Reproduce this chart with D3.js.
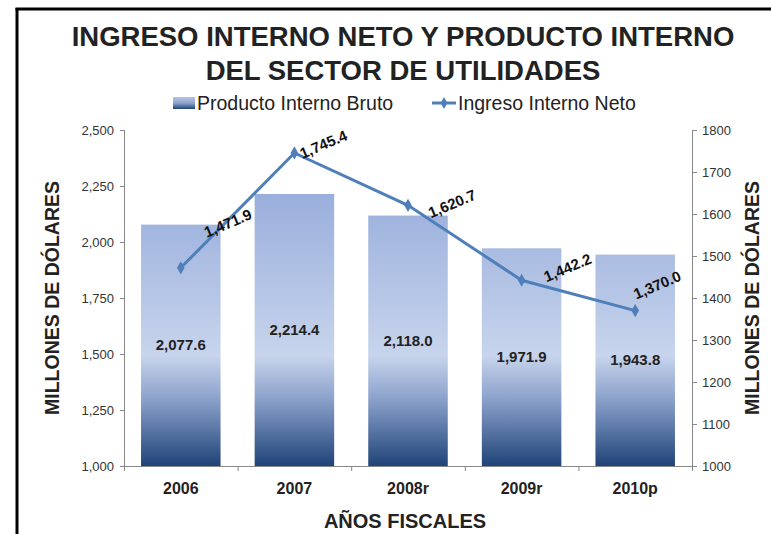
<!DOCTYPE html>
<html><head><meta charset="utf-8">
<script src="https://cdn.jsdelivr.net/npm/d3@7"></script>
<style>body{margin:0;background:#fff}svg{display:block;font-family:"Liberation Sans",Arial,sans-serif}</style>
</head><body><svg id="c" width="771" height="534"></svg>
<script>
const categories = ["2006","2007","2008r","2009r","2010p"];
const pibValues = [2077.6, 2214.4, 2118.0, 1971.9, 1943.8];
const ingresoValues = [1471.9, 1745.4, 1620.7, 1442.2, 1370.0];
const leftTicks = [1000,1250,1500,1750,2000,2250,2500];
const rightTicks = [1000,1100,1200,1300,1400,1500,1600,1700,1800];
const titleLines = ["INGRESO INTERNO NETO Y PRODUCTO INTERNO","DEL SECTOR DE UTILIDADES"];
const seriesNames = ["Producto Interno Bruto","Ingreso Interno Neto"];
const yTitle = "MILLONES DE DÓLARES";
const xTitle = "AÑOS FISCALES";
// label placement (layout only): offset of label start from its point
const lineLabelOffsets = [[26,-30],[8,6],[23,13],[25,2],[1,-11]];

const svg = d3.select("#c");
const M = {l:124, r:692, t:130, b:466};
const x = d3.scaleBand().domain(categories).range([M.l,M.r]).paddingInner(0.3).paddingOuter(0.15);
const xb = d3.scaleBand().domain(categories).range([M.l,M.r]);
const yL = d3.scaleLinear().domain([1000,2500]).range([M.b,M.t]);
const yR = d3.scaleLinear().domain([1000,1800]).range([M.b,M.t]);
const lineColor = "#4f7fba";

const defs = svg.append("defs");
const g = defs.append("linearGradient").attr("id","barg").attr("gradientUnits","userSpaceOnUse")
  .attr("x1",0).attr("x2",0).attr("y1",190).attr("y2",M.b);
[[0,"#98addb"],[0.6,"#c7d4ec"],[0.75,"#8ea4cd"],[1,"#1f4378"]].forEach(s=>g.append("stop").attr("offset",s[0]).attr("stop-color",s[1]));
const lg = defs.append("linearGradient").attr("id","legg").attr("x1",0).attr("x2",0).attr("y1",0).attr("y2",1);
[[0,"#b5c5e6"],[0.5,"#8ea4cd"],[1,"#1f4378"]].forEach(s=>lg.append("stop").attr("offset",s[0]).attr("stop-color",s[1]));

// frame
svg.append("line").attr("x1",17).attr("x2",17).attr("y1",8).attr("y2",534).attr("stroke","#000").attr("stroke-width",3);
svg.append("line").attr("x1",15.5).attr("x2",771).attr("y1",9).attr("y2",9).attr("stroke","#000").attr("stroke-width",3);

// title
titleLines.forEach((t,i)=>svg.append("text").attr("x",403).attr("y",46+i*34).attr("text-anchor","middle")
  .attr("font-size",27.5).attr("font-weight","bold").attr("fill","#222").text(t));

// legend
svg.append("rect").attr("x",173).attr("y",97).attr("width",22).attr("height",12).attr("fill","url(#legg)");
svg.append("text").attr("x",197).attr("y",110).attr("font-size",19.5).attr("fill","#222").text(seriesNames[0]);
svg.append("line").attr("x1",432).attr("x2",456).attr("y1",103).attr("y2",103).attr("stroke",lineColor).attr("stroke-width",3);
svg.append("path").attr("d",d3.symbol(d3.symbolDiamond,40)()).attr("transform","translate(444,103)").attr("fill",lineColor);
svg.append("text").attr("x",458).attr("y",110).attr("font-size",19.5).attr("fill","#222").text(seriesNames[1]);

// bars
svg.selectAll(".bar").data(pibValues).join("rect").attr("class","bar")
  .attr("x",(d,i)=>x(categories[i])).attr("width",x.bandwidth())
  .attr("y",d=>yL(d)).attr("height",d=>yL(1000)-yL(d)).attr("fill","url(#barg)");

// axes
const axL = svg.append("g").attr("transform",`translate(${M.l},0)`)
  .call(d3.axisLeft(yL).tickValues(leftTicks).tickSize(4).tickPadding(6).tickFormat(d3.format(",")));
const axR = svg.append("g").attr("transform",`translate(${M.r},0)`)
  .call(d3.axisRight(yR).tickValues(rightTicks).tickSize(5).tickPadding(5).tickFormat(d3.format("d")));
[axL,axR].forEach(a=>{a.select(".domain").attr("stroke","#888").attr("d",null);
  a.selectAll(".tick line").attr("stroke","#888");
  a.selectAll("text").attr("font-size",13).attr("fill","#333").attr("font-family","Liberation Sans, Arial, sans-serif");});
axL.select(".domain").remove(); axR.select(".domain").remove();
svg.append("line").attr("x1",M.l+0.5).attr("x2",M.l+0.5).attr("y1",M.t).attr("y2",M.b).attr("stroke","#888");
svg.append("line").attr("x1",M.r+0.5).attr("x2",M.r+0.5).attr("y1",M.t).attr("y2",M.b).attr("stroke","#888");
svg.append("line").attr("x1",M.l).attr("x2",M.r+1).attr("y1",M.b+0.5).attr("y2",M.b+0.5).attr("stroke","#888");
const bounds = categories.map(c=>xb(c)).concat([M.r]);
svg.selectAll(".xt").data(bounds).join("line").attr("x1",d=>d+0.5).attr("x2",d=>d+0.5).attr("y1",M.b).attr("y2",M.b+5).attr("stroke","#888");
svg.selectAll(".xl").data(categories).join("text").attr("x",d=>xb(d)+xb.bandwidth()/2).attr("y",494)
  .attr("text-anchor","middle").attr("font-size",16).attr("font-weight","bold").attr("fill","#222").text(d=>d);

// axis titles
svg.append("text").attr("transform","translate(59,298) rotate(-90)").attr("text-anchor","middle")
  .attr("font-size",19.5).attr("font-weight","bold").attr("fill","#222").text(yTitle);
svg.append("text").attr("transform","translate(759,298) rotate(-90)").attr("text-anchor","middle")
  .attr("font-size",19.5).attr("font-weight","bold").attr("fill","#222").text(yTitle);
svg.append("text").attr("x",405).attr("y",528).attr("text-anchor","middle")
  .attr("font-size",20).attr("font-weight","bold").attr("fill","#222").text(xTitle);

// bar labels
svg.selectAll(".bl").data(pibValues).join("text").attr("x",(d,i)=>x(categories[i])+x.bandwidth()/2)
  .attr("y",d=>(yL(d)+yL(1000))/2+5).attr("text-anchor","middle").attr("font-size",15).attr("font-weight","bold")
  .attr("fill","#222").text(d=>d3.format(",.1f")(d));

// line
const pts = ingresoValues.map((v,i)=>[xb(categories[i])+xb.bandwidth()/2, yR(v)]);
svg.append("path").attr("d",d3.line()(pts)).attr("fill","none").attr("stroke",lineColor).attr("stroke-width",3);
svg.selectAll(".mk").data(pts).join("path").attr("d",d3.symbol(d3.symbolDiamond,50)())
  .attr("transform",d=>`translate(${d[0]},${d[1]})`).attr("fill",lineColor);
svg.selectAll(".ll").data(ingresoValues).join("text")
  .attr("transform",(d,i)=>`translate(${pts[i][0]+lineLabelOffsets[i][0]},${pts[i][1]+lineLabelOffsets[i][1]}) rotate(-23)`)
  .attr("font-size",15).attr("font-weight","bold").attr("fill","#111").text(d=>d3.format(",.1f")(d));
</script></body></html>
